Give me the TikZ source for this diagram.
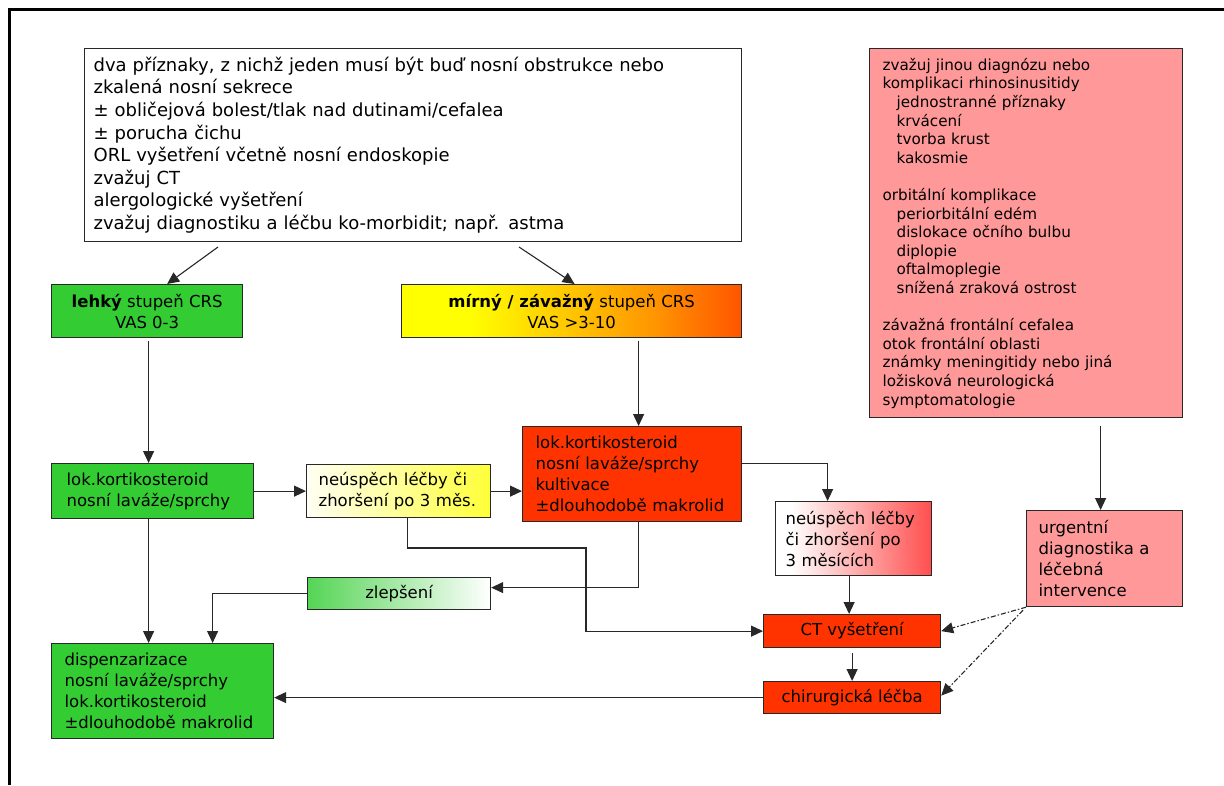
\documentclass[tikz,border=0pt]{standalone}
\usepackage{fontspec}
\setmainfont{DejaVu Sans}
\usetikzlibrary{arrows.meta,calc}
\definecolor{gr}{RGB}{51,204,51}
\definecolor{pk}{RGB}{255,153,153}
\definecolor{rd}{RGB}{255,51,0}
\definecolor{ln}{RGB}{40,40,40}
\definecolor{orng}{RGB}{255,150,0}
\pgfdeclarehorizontalshading{mirnysh}{100bp}{color(0bp)=(yellow); color(35bp)=(yellow); color(62bp)=(orng); color(92bp)=(red); color(100bp)=(red)}
\pgfdeclarehorizontalshading{neusa}{100bp}{color(0bp)=(white); color(22bp)=(white); color(90bp)=(yellow); color(100bp)=(yellow)}
\pgfdeclarehorizontalshading{neusb}{100bp}{color(0bp)=(white); color(30bp)=(white); color(95bp)=(red); color(100bp)=(red)}
\pgfdeclarehorizontalshading{zlepsh}{100bp}{color(0bp)=(gr); color(15bp)=(gr); color(75bp)=(white); color(100bp)=(white)}
\begin{document}
\begin{tikzpicture}[x=1pt,y=-1pt,
  box/.style={draw=ln, line width=1.2pt, anchor=north west, inner sep=0pt, align=left,
    font=\fontsize{16.5}{21}\selectfont},
  arr/.style={draw=ln, line width=1.1pt, -{Triangle[length=12pt,width=11pt]}},
  dsh/.style={arr, dash pattern=on 5pt off 2pt on 1.5pt off 2pt}
]
\useasboundingbox (0,0) rectangle (1224,785);
\fill[white] (0,0) rectangle (1224,785);
\draw[line width=3pt] (9,785) -- (9,9) -- (1224,9);

% top box
\node[box, fill=white, minimum width=657pt, minimum height=193pt, text width=639pt,
  font=\fontsize{18}{22.6}\selectfont] (top) at (84,48)
 {dva příznaky, z nichž jeden musí být buď nosní obstrukce nebo\\
  zkalená nosní sekrece\\
  ± obličejová bolest/tlak nad dutinami/cefalea\\
  ± porucha čichu\\
  ORL vyšetření včetně nosní endoskopie\\
  zvažuj CT\\
  alergologické vyšetření\\
  zvažuj diagnostiku a léčbu ko-morbidit; např. astma};

% pink box
\node[box, fill=pk, minimum width=313pt, minimum height=369pt, text width=287pt,
  font=\fontsize{15.2}{18.6}\selectfont] (pink) at (869,48)
 {zvažuj jinou diagnózu nebo\\
  komplikaci rhinosinusitidy\\
  \hspace*{14pt}jednostranné příznaky\\
  \hspace*{14pt}krvácení\\
  \hspace*{14pt}tvorba krust\\
  \hspace*{14pt}kakosmie\\[18.6pt]
  orbitální komplikace\\
  \hspace*{14pt}periorbitální edém\\
  \hspace*{14pt}dislokace očního bulbu\\
  \hspace*{14pt}diplopie\\
  \hspace*{14pt}oftalmoplegie\\
  \hspace*{14pt}snížená zraková ostrost\\[18.6pt]
  závažná frontální cefalea\\
  otok frontální oblasti\\
  známky meningitidy nebo jiná\\
  ložisková neurologická\\
  symptomatologie};

\node[box, fill=gr, minimum width=191pt, minimum height=53pt, align=center] (lehky) at (51,284)
 {\textbf{lehký} stupeň CRS\\VAS 0-3};
\node[box, shading=mirnysh, minimum width=340pt, minimum height=53pt, align=center] (mirny) at (401,284)
 {\textbf{mírný / závažný} stupeň CRS\\VAS >3-10};

\node[box, fill=gr, minimum width=202pt, minimum height=55pt, text width=172pt] (lokg) at (51,463)
 {lok.kortikosteroid\\nosní laváže/sprchy};
\node[box, shading=neusa, minimum width=184pt, minimum height=53pt, text width=160pt] (neus1) at (306,464)
 {neúspěch léčby či\\zhoršení po 3 měs.};
\node[box, fill=rd, minimum width=219pt, minimum height=95pt, text width=193pt] (red) at (522,426)
 {lok.kortikosteroid\\nosní laváže/sprchy\\kultivace\\±dlouhodobě makrolid};
\node[box, shading=neusb, minimum width=156pt, minimum height=74pt, text width=136pt] (neus2) at (775,501)
 {neúspěch léčby\\či zhoršení po\\3 měsících};
\node[box, fill=pk, minimum width=156pt, minimum height=96pt, text width=132pt] (urg) at (1026,510)
 {urgentní\\diagnostika a\\léčebná\\intervence};
\node[box, shading=zlepsh, minimum width=183pt, minimum height=32pt, align=center] (zlep) at (307,577)
 {zlepšení};
\node[box, fill=rd, minimum width=177pt, minimum height=33pt, align=center] (ct) at (763,614)
 {CT vyšetření};
\node[box, fill=rd, minimum width=177pt, minimum height=32pt, align=center] (chir) at (763,681)
 {chirurgická léčba};
\node[box, fill=gr, minimum width=222pt, minimum height=95pt, text width=196pt] (disp) at (51,643)
 {dispenzarizace\\nosní laváže/sprchy\\lok.kortikosteroid\\±dlouhodobě makrolid};

% connectors
\coordinate (t1) at (218,247);
\coordinate (t2) at (519,247);
\coordinate (k1) at (586,548);
\draw[arr] (t1) -- ([xshift=20pt]lehky.north);
\draw[arr] (t2) -- ([xshift=3pt]mirny.north);
\draw[arr] ([xshift=1.5pt,yshift=-3pt]lehky.south) -- ([xshift=1.5pt]lehky.south |- lokg.north);
\draw[arr] ([xshift=1.5pt]lehky.south |- lokg.south) -- ([xshift=1.5pt]lehky.south |- disp.north);
\draw[arr] (lokg.east) -- (neus1.west);
\draw[arr] (neus1.east) -- (neus1.east -| red.west);
\draw[arr] ([xshift=6.5pt,yshift=-3pt]red.north |- mirny.south) -- ([xshift=6.5pt]red.north);
\draw[arr] ([yshift=10.5pt]red.east) -| ([xshift=-26pt]neus2.north);
\draw[arr] ([xshift=9pt]neus1.south) |- (k1) |- (ct.west);
\draw[arr] ([xshift=6.5pt]red.south) |- ([yshift=6pt]zlep.east);
\draw[arr] (zlep.west) -| ([xshift=50pt]disp.north);
\draw[arr] ([xshift=-3pt]ct.north |- neus2.south) -- ([xshift=-3pt]ct.north);
\draw[arr] ([yshift=-5pt]ct.south) -- (chir.north);
\draw[arr] (chir.west) -- (chir.west -| disp.east);
\draw[arr] ([xshift=-4pt,yshift=-8pt]urg.north |- pink.south) -- ([xshift=-4pt]urg.north);
\draw[dsh] (urg.south west) -- (ct.east);
\draw[dsh] ([xshift=-3pt,yshift=-3pt]urg.south west) -- ([yshift=2pt]chir.east);
\end{tikzpicture}
\end{document}
